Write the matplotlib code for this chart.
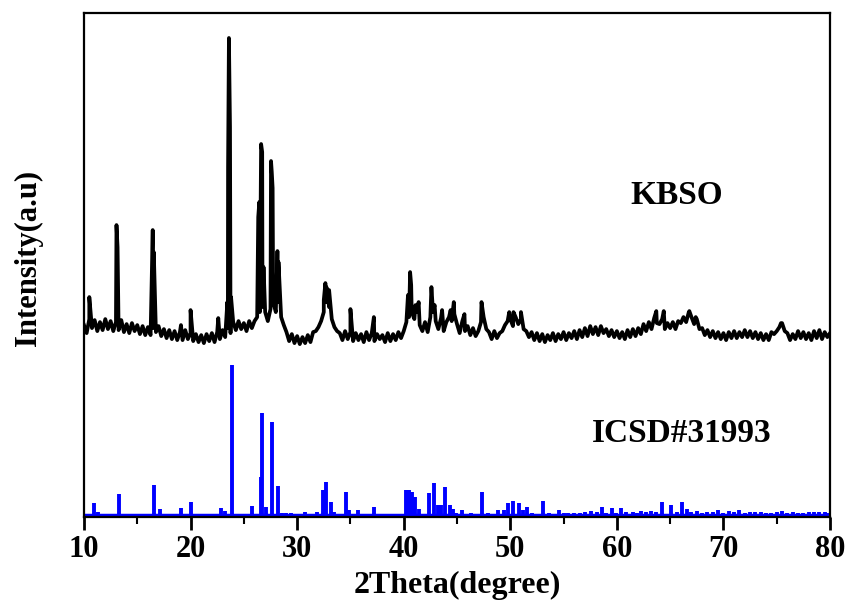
import numpy as np
import matplotlib
matplotlib.use('Agg')
import matplotlib.pyplot as plt
from matplotlib.ticker import MultipleLocator

plt.rcParams['font.family'] = ['Liberation Serif', 'DejaVu Serif']
plt.rcParams['font.weight'] = 'bold'

# -----------------------------
# KBSO measured pattern (scan step 0.25 deg, baseline + noise)
# -----------------------------
scan_start, scan_step = 10.0, 0.25
kbso_base = [
    192, 184, 198, 189, 197, 186, 195, 187, 198, 188, 196, 186,
    195, 187, 197, 185, 193, 184, 194, 186, 192, 183, 191, 182,
    190, 182, 189, 185, 191, 181, 188, 179, 187, 178, 186, 177,
    185, 177, 187, 178, 184, 176, 183, 175, 182, 174, 183, 176,
    184, 175, 185, 178, 187, 180, 189, 184, 195, 187, 196, 188,
    194, 186, 196, 189, 196, 200, 205, 210, 205, 196, 208, 215,
    205, 215, 200, 192, 185, 176, 183, 174, 181, 173, 180, 174,
    182, 175, 185, 186, 190, 196, 205, 215, 210, 198, 190, 186,
    184, 177, 186, 178, 185, 176, 184, 177, 183, 175, 185, 177,
    184, 176, 183, 178, 182, 175, 184, 176, 183, 177, 185, 179,
    186, 195, 200, 205, 198, 205, 192, 186, 195, 185, 200, 205,
    196, 188, 199, 186, 195, 200, 196, 203, 193, 184, 196, 186,
    191, 182, 189, 181, 186, 195, 200, 188, 185, 178, 186, 179,
    184, 186, 192, 196, 198, 191, 200, 193, 198, 188, 186, 180,
    185, 177, 184, 176, 183, 175, 182, 177, 184, 176, 183, 178,
    185, 177, 184, 179, 186, 178, 187, 180, 189, 181, 191, 183,
    190, 182, 191, 184, 188, 181, 187, 180, 186, 179, 185, 178,
    187, 180, 188, 181, 189, 183, 193, 186, 195, 188, 199, 194,
    193, 198, 188, 194, 189, 195, 188, 196, 194, 200, 195, 205,
    200, 193, 198, 188, 189, 182, 187, 180, 186, 179, 185, 178,
    184, 177, 185, 179, 186, 179, 185, 180, 187, 180, 186, 179,
    185, 178, 184, 177, 183, 177, 185, 183, 186, 190, 194, 186,
    184, 177, 183, 178, 186, 179, 185, 178, 184, 177, 186, 179,
    187, 178, 185, 180, 184,
]

# reflections of the measured pattern (2theta, intensity)
kbso_peak_pos = [10.5, 13.05, 13.15, 16.45, 16.55, 19.1, 20.0, 22.6,
                 23.45, 23.52, 23.6, 23.7, 23.8,
                 26.35, 26.45, 26.62, 26.72, 26.85,
                 27.55, 27.62, 27.7, 28.15, 28.25,
                 32.5, 32.65, 32.75, 33.0, 35.0, 37.2,
                 40.4, 40.6, 40.7, 41.1, 41.4, 42.6, 42.9, 43.6,
                 44.4, 44.7, 45.7, 47.3, 49.9, 50.3, 51.0,
                 63.7, 64.4, 66.8, 67.4, 75.4]
kbso_peak_int = [220, 292, 270, 287, 265, 192, 207, 199,
                 215, 350, 479, 390, 220,
                 300, 315, 373, 365, 250,
                 356, 345, 329, 266, 255,
                 217, 234, 230, 227, 208, 200,
                 222, 245, 232, 212, 215, 230, 212, 207,
                 207, 215, 203, 215, 205, 205, 205,
                 206, 206, 206, 200, 194]

# -----------------------------
# ICSD#31993 reference sticks (2theta, intensity)
# -----------------------------
icsd_pos = [10.9, 11.3, 12.0, 13.3, 14.4, 15.9, 16.6, 17.1, 18.4, 19.1,
            20.0, 21.7, 22.0, 22.9, 23.2, 23.9, 24.7, 25.3, 25.8, 26.6,
            26.7, 27.1, 27.6, 28.2, 28.6, 29.0, 29.4, 30.7, 31.9, 32.4,
            32.7, 33.2, 33.5, 34.6, 34.9, 35.7, 37.2, 38.3, 39.0, 39.6,
            40.2, 40.5, 40.8, 41.1, 41.4, 42.4, 42.8, 43.2, 43.5, 43.9,
            44.3, 44.6, 45.5, 46.3, 47.3, 48.8, 49.4, 49.8, 50.3, 50.8,
            51.2, 51.6, 53.1, 54.6, 55.4, 56.0, 57.0, 57.6, 58.6, 59.5,
            60.4, 61.5, 62.3, 63.2, 64.2, 65.1, 66.1, 66.6, 67.5, 68.5,
            69.5, 70.5, 71.5, 72.5, 73.5, 74.5, 75.5, 76.5, 77.5, 78.5,
            79.5]
icsd_int = [14, 5, 2, 23, 2, 1, 32, 8, 2, 9,
            15, 2, 3, 9, 6, 152, 2, 2, 11, 40,
            104, 10, 95, 31, 4, 4, 4, 5, 5, 27,
            35, 15, 5, 25, 7, 7, 10, 3, 3, 3,
            27, 27, 25, 20, 8, 24, 34, 12, 12, 30,
            12, 8, 7, 4, 25, 7, 7, 14, 16, 14,
            7, 10, 16, 7, 4, 4, 5, 6, 10, 9,
            9, 5, 6, 6, 15, 12, 15, 8, 6, 5,
            7, 6, 7, 5, 5, 4, 6, 5, 4, 5,
            5]
# weak background reflections
icsd_weak_pos = [21.0, 24.3, 29.8, 30.2, 31.2, 36.3, 36.8, 38.7, 44.9, 45.9,
                 46.8, 47.9, 48.4, 52.0, 52.5, 53.6, 54.1, 55.0, 56.5, 58.1,
                 59.0, 59.9, 60.9, 61.9, 62.7, 63.7, 65.6, 67.0, 68.0, 69.0,
                 70.0, 71.0, 72.0, 73.0, 74.0, 75.0, 76.0, 77.0, 78.0, 79.0,
                 79.8]
icsd_weak_int = [3, 3, 3, 2, 3, 3, 2, 3, 4, 3,
                 3, 4, 3, 4, 3, 4, 3, 4, 4, 5,
                 4, 4, 5, 4, 5, 5, 5, 5, 4, 5,
                 4, 5, 4, 5, 4, 5, 4, 4, 5, 5,
                 4]

labels = ['KBSO', 'ICSD#31993']

# merge baseline scan with peak points
base_x = scan_start + scan_step * np.arange(len(kbso_base))
all_x = np.concatenate([base_x, kbso_peak_pos])
all_y = np.concatenate([kbso_base, kbso_peak_int])
order = np.argsort(all_x, kind='stable')
kbso_x, kbso_y = all_x[order], all_y[order]

fig = plt.figure(figsize=(8.5, 6.07), dpi=100)
ax = fig.add_axes([0.0988, 0.148, 0.8777, 0.8306])

ax.plot(kbso_x, kbso_y, color='black', lw=2.7, solid_joinstyle='round')
ax.vlines(icsd_pos, 0, icsd_int, color='blue', lw=2.8)
ax.vlines(icsd_weak_pos, 0, icsd_weak_int, color='blue', lw=2.8)
ax.plot([10, 80], [2, 2], color='blue', lw=2.5)

ax.text(65.6, 322, labels[0], fontsize=24, fontweight='bold',
        ha='center', va='center')
ax.text(66.1, 84, labels[1], fontsize=24, fontweight='bold',
        ha='center', va='center')

ax.set_xlim(10, 80)
ax.set_ylim(0, 504)
ax.xaxis.set_major_locator(MultipleLocator(10))
ax.xaxis.set_minor_locator(MultipleLocator(5))
ax.set_yticks([])
ax.tick_params(axis='x', which='major', direction='out', length=9, width=2,
               labelsize=22, pad=4)
ax.tick_params(axis='x', which='minor', direction='out', length=5, width=1.5)
for sp in ax.spines.values():
    sp.set_linewidth(1.6)

ax.set_xlabel('2Theta(degree)', fontsize=23, fontweight='bold', labelpad=5)
ax.set_ylabel('Intensity(a.u)', fontsize=22, fontweight='bold')
ax.yaxis.set_label_coords(-0.055, 0.514)

fig.savefig('out.png', dpi=100)
